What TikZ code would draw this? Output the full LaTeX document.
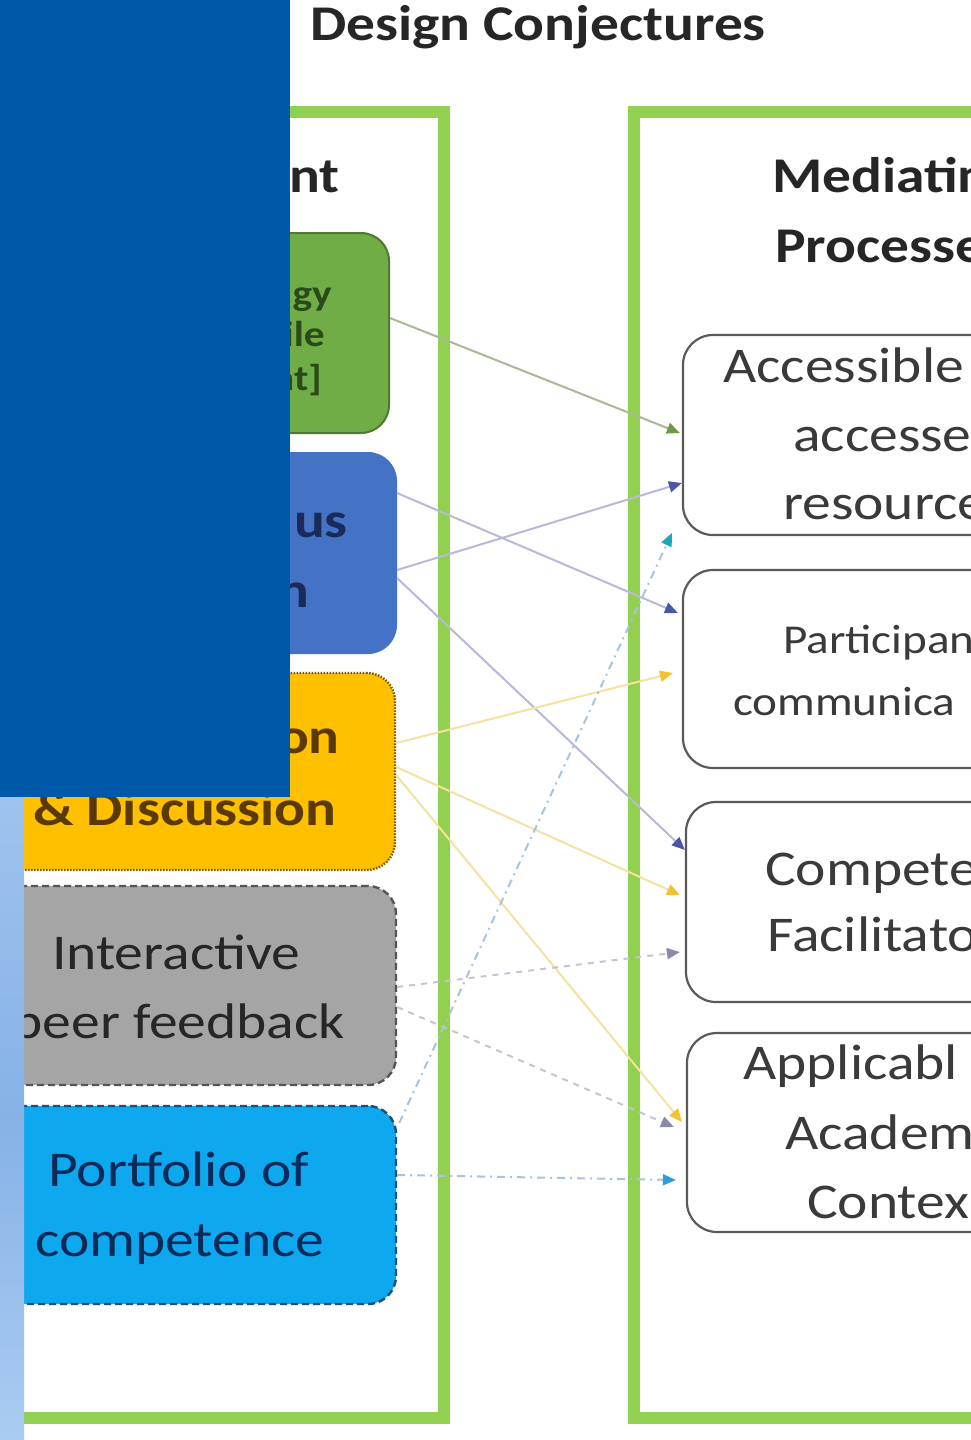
\documentclass[tikz,border=0pt]{standalone}
\usepackage{fontspec}
\setmainfont{Carlito}[FakeStretch=1.15]
\usetikzlibrary{arrows.meta,calc}
\definecolor{framegreen}{HTML}{92D050}
\definecolor{overblue}{HTML}{0058A8}
\definecolor{gfill}{HTML}{70AD47}
\definecolor{gdraw}{HTML}{4E7A2F}
\definecolor{bfill}{HTML}{4472C4}
\definecolor{yfill}{HTML}{FFC000}
\definecolor{ydraw}{HTML}{7A5A00}
\definecolor{grfill}{HTML}{A5A5A5}
\definecolor{grdraw}{HTML}{555555}
\definecolor{cfill}{HTML}{0EA8EE}
\definecolor{cdraw}{HTML}{1F4E79}
\definecolor{rdraw}{HTML}{5A5A5A}
\definecolor{txtdark}{HTML}{262626}
\definecolor{txtright}{HTML}{3A3A3A}
\definecolor{txtgreen}{HTML}{2A4A1A}
\definecolor{txtblue}{HTML}{1A2A5A}
\definecolor{txtyellow}{HTML}{5A3A00}
\definecolor{txtcyan}{HTML}{0A2A5A}
\definecolor{lgreen}{HTML}{A9B896}
\definecolor{lblue}{HTML}{B8B8D8}
\definecolor{lyellow}{HTML}{F3E2A0}
\definecolor{lgray}{HTML}{C4C4D6}
\definecolor{lcyan}{HTML}{A8C4DC}
\definecolor{hgreen}{HTML}{6E9A48}
\definecolor{hblue}{HTML}{4A56A6}
\definecolor{hyellow}{HTML}{F2C230}
\definecolor{hgray}{HTML}{8A8AB0}
\definecolor{hteal}{HTML}{1AAAB8}
\definecolor{hcyan}{HTML}{2AA0D8}
\definecolor{stripA}{HTML}{9EC3EE}
\definecolor{stripB}{HTML}{86B2E6}
\definecolor{stripC}{HTML}{AACCF2}
\tikzset{
  frameline/.style={draw=framegreen, line width=12pt},
  boxL/.style={rounded corners=28pt, minimum width=436pt, minimum height=199pt, inner sep=0pt, line width=2pt},
  boxR/.style={draw=rdraw, fill=white, rounded corners=30pt, minimum width=407pt, minimum height=199pt, inner sep=0pt, line width=2.2pt},
  big/.style={inner sep=0pt, font=\fontsize{50}{60}\selectfont},
  bigb/.style={inner sep=0pt, font=\fontsize{50}{60}\selectfont\bfseries},
  arr/.style 2 args={draw=#1, line width=2pt, -{Triangle[length=13pt,width=11pt,fill=#2,color=#2]}},
}
\begin{document}
\begin{tikzpicture}[x=1pt,y=-1pt]
\useasboundingbox (0,0) rectangle (971,1440);
\clip (0,0) rectangle (971,1440);
\fill[white] (0,0) rectangle (971,1440);
% title
\node[bigb, text=txtdark, anchor=base west] (title) at (310,40) {Design Conjectures};
% frames
\draw[frameline] (-60,112) rectangle (444,1418);
\draw[frameline] (634,112) rectangle (1120,1418);
% headings
\node[bigb, text=txtdark, anchor=base east] (headL) at (340,192) {nt};
\node[bigb, text=txtdark, anchor=base west] (headR1) at (772,192) {Mediatin};
\node[bigb, text=txtdark, anchor=base west] (headR2) at (775,262) {Processe};
% left boxes
\node[boxL, draw=gdraw, fill=gfill, minimum width=429pt, minimum height=200pt] (green) at (174.5,333) {};
\node[boxL, draw=bfill, fill=bfill, minimum height=200pt] (blue) at (178,553) {};
\node[boxL, draw=ydraw, fill=yfill, line width=2.4pt, dash pattern=on 1.5pt off 1.5pt, minimum width=435pt, minimum height=197pt] (yellow) at (177.5,771.5) {};
\node[boxL, draw=grdraw, fill=grfill, line width=2.4pt, dash pattern=on 7pt off 4pt] (gray) at (178,985.5) {};
\node[boxL, draw=cdraw, fill=cfill, line width=2.4pt, dash pattern=on 7pt off 4pt, minimum height=198pt] (cyan) at (178,1205) {};
% right boxes
\node[boxR, minimum height=200pt] (acc) at (886.5,435) {};
\node[boxR, minimum height=198pt] (part) at (886.5,669) {};
\node[boxR, minimum height=200pt] (comp) at (889.5,902) {};
\node[boxR, minimum height=199pt] (appl) at (890.5,1132.5) {};
% left box texts
\begin{scope}[font=\fontsize{36}{44}\selectfont\bfseries]
\node[inner sep=0pt, text=txtgreen, anchor=base east] (g1) at (332,305) {gy};
\node[inner sep=0pt, text=txtgreen, anchor=base east] (g2) at (325,346) {ile};
\node[inner sep=0pt, text=txtgreen, anchor=base east] (g3) at (322,390) {nt]};
\end{scope}
\node[bigb, text=txtblue, anchor=base east] (b1) at (348,537) {us};
\node[bigb, text=txtblue, anchor=base east] (b2) at (310,607) {n};
\node[bigb, text=txtyellow, anchor=base east] (y1) at (340,753) {on};
\node[bigb, text=txtyellow, anchor=base west] (y2) at (33,825) {\& Discussion};
\node[big, text=txtdark, anchor=base west] (gr1) at (52,969) {Interactive};
\node[big, text=txtdark, anchor=base east] (gr2) at (345,1038) {peer feedback};
\node[big, text=txtcyan, anchor=base west] (c1) at (48,1186) {Portfolio of};
\node[big, text=txtcyan, anchor=base west] (c2) at (35,1256) {competence};
% right box texts
\node[big, text=txtright, anchor=base west] (a1) at (723,382) {Accessible};
\node[big, text=txtright, anchor=base west] (a2) at (793,451) {accesse};
\node[big, text=txtright, anchor=base west] (a3) at (783,519) {resource};
\node[inner sep=0pt, font=\fontsize{41}{50}\selectfont, text=txtright, anchor=base west] (p1) at (783,653) {Participan};
\node[inner sep=0pt, font=\fontsize{41}{50}\selectfont, text=txtright, anchor=base west] (p2) at (733,715) {communica};
\node[big, text=txtright, anchor=base west] (k1) at (765,885) {Compete};
\node[big, text=txtright, anchor=base west] (k2) at (767,951) {Facilitato};
\node[big, text=txtright, anchor=base west] (ap1) at (743,1079) {Applicabl};
\node[big, text=txtright, anchor=base west] (ap2) at (785,1149) {Academ};
\node[big, text=txtright, anchor=base west] (ap3) at (807,1218) {Contex};
% connectors
\draw[arr={lgreen}{hgreen}] ([yshift=15pt]green.east) -- ([yshift=2pt,xshift=-2pt]acc.west);
\draw[arr={lblue}{hblue}] ([yshift=-17pt]blue.east) -- ([yshift=-48pt]acc.west);
\draw[arr={lblue}{hblue}] ([yshift=60pt]blue.east) -- ([yshift=56pt,xshift=-4pt]part.west);
\draw[arr={lblue}{hblue}] ([yshift=-25pt]blue.east) -- ([yshift=52pt]comp.west);
\draw[arr={lyellow}{hyellow}] ([yshift=28.5pt]yellow.east) -- ([yshift=-4pt,xshift=-9pt]part.west);
\draw[arr={lyellow}{hyellow}] ([yshift=4.5pt]yellow.east) -- ([yshift=7pt,xshift=-5pt]comp.west);
\draw[arr={lyellow}{hyellow}] ([yshift=-3.5pt]yellow.east) -- ([yshift=10.5pt,xshift=-4pt]appl.west);
\draw[arr={lgray}{hgray}, dash pattern=on 6pt off 6pt] ([yshift=-1.5pt]gray.east) -- ([yshift=-50pt,xshift=-5pt]comp.west);
\draw[arr={lgray}{hgray}, dash pattern=on 6pt off 6pt] ([yshift=-21.5pt]gray.east) -- ([yshift=5.5pt,xshift=-12pt]appl.west);
\draw[arr={lcyan}{hteal}, dash pattern=on 8pt off 5pt on 2pt off 5pt] ([yshift=82pt,xshift=2pt]cyan.east) -- ([yshift=-98pt,xshift=-10pt]acc.west);
\draw[arr={lcyan}{hcyan}, dash pattern=on 8pt off 5pt on 2pt off 5pt] ([yshift=30pt]cyan.east) -- ([yshift=-47.5pt,xshift=-10pt]appl.west);
% overlays
\fill[overblue] (0,0) rectangle (290,797);
\shade[top color=stripA, bottom color=stripC, middle color=stripB] (0,797) rectangle (24,1440);
\end{tikzpicture}
\end{document}
